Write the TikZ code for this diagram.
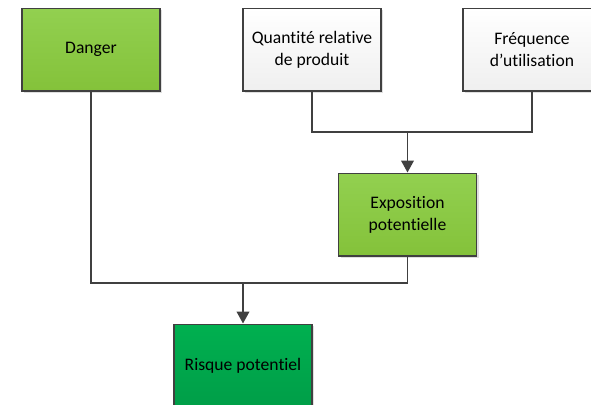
\documentclass[tikz,border=0pt]{standalone}
\usepackage{fontspec}
\setmainfont{Carlito}[Ligatures=NoCommon]
\usetikzlibrary{arrows.meta,shadows}
\definecolor{lignegris}{HTML}{404040}
\definecolor{vertclair}{HTML}{92D050}
\definecolor{vertclairbas}{HTML}{84C23A}
\definecolor{vertfonce}{HTML}{00B050}
\definecolor{vertfoncebas}{HTML}{009E48}
\definecolor{grisbas}{HTML}{EFEFEF}

\begin{document}
\begin{tikzpicture}[x=0.75pt,y=-0.75pt]
                        \tikzstyle{boite}=[draw=lignegris, line width=1pt, minimum width=103.5pt, minimum height=62pt,
                            align=center, font=\fontsize{13.2}{16.5}\selectfont,
                            drop shadow={shadow xshift=1.5pt, shadow yshift=-1.5pt, opacity=0.25, fill=gray}]
                        \tikzstyle{boite verte}=[boite, top color=vertclair, bottom color=vertclairbas]
                        \tikzstyle{boite grise}=[boite, top color=white, bottom color=grisbas]
                        \tikzstyle{boite risque}=[boite, top color=vertfonce, bottom color=vertfoncebas]
                        \tikzstyle{lien}=[draw=lignegris, line width=1.4pt]
                        \tikzstyle{fleche}=[lien, -{Triangle[width=9.5pt,length=9pt]}]
                        \useasboundingbox (0,0) rectangle (591,404);
                        % facteurs
                        \node[boite verte] (danger) at (91,49.5) {Danger};
                        \node[boite grise] (quantite) at (312,49.5) {Quantité relative\\de produit};
                        \node[boite grise] (frequence) at (532,49.5) {Fréquence\\d’utilisation};
                        \node[boite verte] (exposition) at (407.5,214.5) {Exposition\\potentielle};
                        \node[boite risque] (risque) at (243,365.5) {Risque potentiel};
                        % liaisons
                        \coordinate (jonction expo) at (407.5,132);
                        \coordinate (jonction risque) at (243,283);
                        \draw[lien] (quantite.south) |- (jonction expo) -| (frequence.south);
                        \draw[fleche] (jonction expo) -- (exposition.north);
                        \draw[lien] (danger.south) |- (jonction risque) -| (exposition.south);
                        \draw[fleche] (jonction risque) -- (risque.north);
                    \end{tikzpicture}
\end{document}
